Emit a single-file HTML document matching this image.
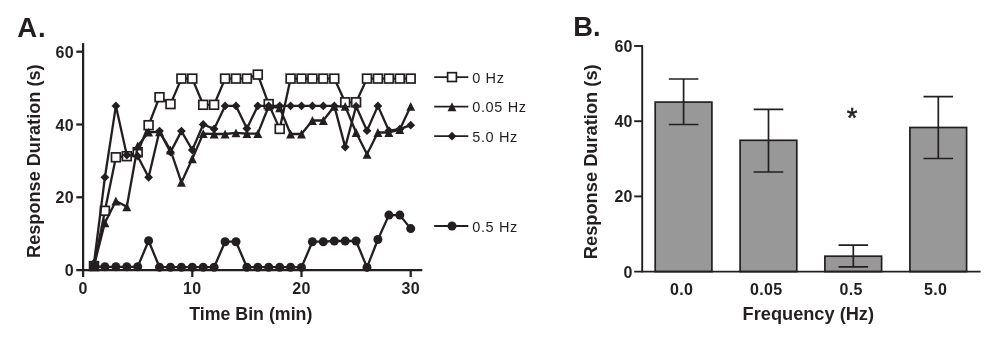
<!DOCTYPE html>
<html><head><meta charset="utf-8"><title>Figure</title>
<style>html,body{margin:0;padding:0;background:#fff}svg{display:block}</style></head>
<body>
<svg width="989" height="348" viewBox="0 0 989 348" font-family="'Liberation Sans', Arial, Helvetica, sans-serif" fill="#231f20">
<rect width="989" height="348" fill="#fff"/>
<text x="17.2" y="36.6" font-size="27.5" font-weight="700" letter-spacing="0.9">A.</text>
<polyline points="94.0,266.1 104.9,210.8 115.9,157.3 126.8,156.2 137.7,152.2 148.6,125.2 159.5,97.2 170.5,104.1 181.4,78.6 192.3,78.6 203.2,104.8 214.1,104.8 225.1,78.6 236.0,78.6 246.9,78.6 257.8,74.6 268.7,104.1 279.7,128.9 290.6,78.6 301.5,78.6 312.4,78.6 323.3,78.6 334.3,78.6 345.2,102.3 356.1,102.3 367.0,78.6 377.9,78.6 388.9,78.6 399.8,78.6 410.7,78.6" fill="none" stroke="#231f20" stroke-width="2.3" stroke-linejoin="round"/>
<rect x="89.6" y="261.7" width="8.8" height="8.8" fill="#fff" stroke="#231f20" stroke-width="1.7"/>
<rect x="100.5" y="206.4" width="8.8" height="8.8" fill="#fff" stroke="#231f20" stroke-width="1.7"/>
<rect x="111.5" y="152.9" width="8.8" height="8.8" fill="#fff" stroke="#231f20" stroke-width="1.7"/>
<rect x="122.4" y="151.8" width="8.8" height="8.8" fill="#fff" stroke="#231f20" stroke-width="1.7"/>
<rect x="133.3" y="147.8" width="8.8" height="8.8" fill="#fff" stroke="#231f20" stroke-width="1.7"/>
<rect x="144.2" y="120.8" width="8.8" height="8.8" fill="#fff" stroke="#231f20" stroke-width="1.7"/>
<rect x="155.1" y="92.8" width="8.8" height="8.8" fill="#fff" stroke="#231f20" stroke-width="1.7"/>
<rect x="166.1" y="99.7" width="8.8" height="8.8" fill="#fff" stroke="#231f20" stroke-width="1.7"/>
<rect x="177.0" y="74.2" width="8.8" height="8.8" fill="#fff" stroke="#231f20" stroke-width="1.7"/>
<rect x="187.9" y="74.2" width="8.8" height="8.8" fill="#fff" stroke="#231f20" stroke-width="1.7"/>
<rect x="198.8" y="100.4" width="8.8" height="8.8" fill="#fff" stroke="#231f20" stroke-width="1.7"/>
<rect x="209.7" y="100.4" width="8.8" height="8.8" fill="#fff" stroke="#231f20" stroke-width="1.7"/>
<rect x="220.7" y="74.2" width="8.8" height="8.8" fill="#fff" stroke="#231f20" stroke-width="1.7"/>
<rect x="231.6" y="74.2" width="8.8" height="8.8" fill="#fff" stroke="#231f20" stroke-width="1.7"/>
<rect x="242.5" y="74.2" width="8.8" height="8.8" fill="#fff" stroke="#231f20" stroke-width="1.7"/>
<rect x="253.4" y="70.2" width="8.8" height="8.8" fill="#fff" stroke="#231f20" stroke-width="1.7"/>
<rect x="264.3" y="99.7" width="8.8" height="8.8" fill="#fff" stroke="#231f20" stroke-width="1.7"/>
<rect x="275.3" y="124.5" width="8.8" height="8.8" fill="#fff" stroke="#231f20" stroke-width="1.7"/>
<rect x="286.2" y="74.2" width="8.8" height="8.8" fill="#fff" stroke="#231f20" stroke-width="1.7"/>
<rect x="297.1" y="74.2" width="8.8" height="8.8" fill="#fff" stroke="#231f20" stroke-width="1.7"/>
<rect x="308.0" y="74.2" width="8.8" height="8.8" fill="#fff" stroke="#231f20" stroke-width="1.7"/>
<rect x="318.9" y="74.2" width="8.8" height="8.8" fill="#fff" stroke="#231f20" stroke-width="1.7"/>
<rect x="329.9" y="74.2" width="8.8" height="8.8" fill="#fff" stroke="#231f20" stroke-width="1.7"/>
<rect x="340.8" y="97.9" width="8.8" height="8.8" fill="#fff" stroke="#231f20" stroke-width="1.7"/>
<rect x="351.7" y="97.9" width="8.8" height="8.8" fill="#fff" stroke="#231f20" stroke-width="1.7"/>
<rect x="362.6" y="74.2" width="8.8" height="8.8" fill="#fff" stroke="#231f20" stroke-width="1.7"/>
<rect x="373.5" y="74.2" width="8.8" height="8.8" fill="#fff" stroke="#231f20" stroke-width="1.7"/>
<rect x="384.5" y="74.2" width="8.8" height="8.8" fill="#fff" stroke="#231f20" stroke-width="1.7"/>
<rect x="395.4" y="74.2" width="8.8" height="8.8" fill="#fff" stroke="#231f20" stroke-width="1.7"/>
<rect x="406.3" y="74.2" width="8.8" height="8.8" fill="#fff" stroke="#231f20" stroke-width="1.7"/>
<polyline points="94.0,266.5 104.9,266.8 115.9,266.8 126.8,266.8 137.7,266.8 148.6,240.8 159.5,267.2 170.5,267.2 181.4,267.2 192.3,267.2 203.2,267.2 214.1,267.2 225.1,241.7 236.0,241.7 246.9,267.2 257.8,267.2 268.7,267.2 279.7,267.2 290.6,267.2 301.5,267.4 312.4,241.7 323.3,241.7 334.3,241.0 345.2,241.0 356.1,241.0 367.0,267.4 377.9,239.5 388.9,215.1 399.8,215.1 410.7,228.6" fill="none" stroke="#231f20" stroke-width="2.3" stroke-linejoin="round"/>
<circle cx="94.0" cy="266.5" r="4.5" fill="#231f20"/>
<circle cx="104.9" cy="266.8" r="4.5" fill="#231f20"/>
<circle cx="115.9" cy="266.8" r="4.5" fill="#231f20"/>
<circle cx="126.8" cy="266.8" r="4.5" fill="#231f20"/>
<circle cx="137.7" cy="266.8" r="4.5" fill="#231f20"/>
<circle cx="148.6" cy="240.8" r="4.5" fill="#231f20"/>
<circle cx="159.5" cy="267.2" r="4.5" fill="#231f20"/>
<circle cx="170.5" cy="267.2" r="4.5" fill="#231f20"/>
<circle cx="181.4" cy="267.2" r="4.5" fill="#231f20"/>
<circle cx="192.3" cy="267.2" r="4.5" fill="#231f20"/>
<circle cx="203.2" cy="267.2" r="4.5" fill="#231f20"/>
<circle cx="214.1" cy="267.2" r="4.5" fill="#231f20"/>
<circle cx="225.1" cy="241.7" r="4.5" fill="#231f20"/>
<circle cx="236.0" cy="241.7" r="4.5" fill="#231f20"/>
<circle cx="246.9" cy="267.2" r="4.5" fill="#231f20"/>
<circle cx="257.8" cy="267.2" r="4.5" fill="#231f20"/>
<circle cx="268.7" cy="267.2" r="4.5" fill="#231f20"/>
<circle cx="279.7" cy="267.2" r="4.5" fill="#231f20"/>
<circle cx="290.6" cy="267.2" r="4.5" fill="#231f20"/>
<circle cx="301.5" cy="267.4" r="4.5" fill="#231f20"/>
<circle cx="312.4" cy="241.7" r="4.5" fill="#231f20"/>
<circle cx="323.3" cy="241.7" r="4.5" fill="#231f20"/>
<circle cx="334.3" cy="241.0" r="4.5" fill="#231f20"/>
<circle cx="345.2" cy="241.0" r="4.5" fill="#231f20"/>
<circle cx="356.1" cy="241.0" r="4.5" fill="#231f20"/>
<circle cx="367.0" cy="267.4" r="4.5" fill="#231f20"/>
<circle cx="377.9" cy="239.5" r="4.5" fill="#231f20"/>
<circle cx="388.9" cy="215.1" r="4.5" fill="#231f20"/>
<circle cx="399.8" cy="215.1" r="4.5" fill="#231f20"/>
<circle cx="410.7" cy="228.6" r="4.5" fill="#231f20"/>
<polyline points="94.0,265.7 104.9,222.8 115.9,200.9 126.8,206.8 137.7,146.0 148.6,132.1 159.5,131.8 170.5,150.0 181.4,182.4 192.3,158.7 203.2,133.6 214.1,134.0 225.1,134.0 236.0,132.9 246.9,133.6 257.8,133.6 268.7,106.3 279.7,107.8 290.6,134.0 301.5,134.0 312.4,120.5 323.3,120.5 334.3,106.3 345.2,106.3 356.1,132.5 367.0,154.3 377.9,132.5 388.9,132.5 399.8,129.6 410.7,106.3" fill="none" stroke="#231f20" stroke-width="2.3" stroke-linejoin="round"/>
<path d="M94.0 261.3L98.5 270.2H89.6Z" fill="#231f20"/>
<path d="M104.9 218.3L109.4 227.2H100.5Z" fill="#231f20"/>
<path d="M115.9 196.5L120.3 205.4H111.4Z" fill="#231f20"/>
<path d="M126.8 202.3L131.2 211.2H122.3Z" fill="#231f20"/>
<path d="M137.7 141.5L142.1 150.4H133.2Z" fill="#231f20"/>
<path d="M148.6 127.7L153.1 136.6H144.2Z" fill="#231f20"/>
<path d="M159.5 127.3L164.0 136.2H155.1Z" fill="#231f20"/>
<path d="M170.5 145.5L174.9 154.4H166.0Z" fill="#231f20"/>
<path d="M181.4 177.9L185.8 186.8H176.9Z" fill="#231f20"/>
<path d="M192.3 154.3L196.8 163.2H187.9Z" fill="#231f20"/>
<path d="M203.2 129.2L207.7 138.1H198.8Z" fill="#231f20"/>
<path d="M214.1 129.5L218.6 138.4H209.7Z" fill="#231f20"/>
<path d="M225.1 129.5L229.5 138.4H220.6Z" fill="#231f20"/>
<path d="M236.0 128.4L240.4 137.3H231.5Z" fill="#231f20"/>
<path d="M246.9 129.2L251.3 138.1H242.5Z" fill="#231f20"/>
<path d="M257.8 129.2L262.3 138.1H253.4Z" fill="#231f20"/>
<path d="M268.7 101.9L273.2 110.8H264.3Z" fill="#231f20"/>
<path d="M279.7 103.3L284.1 112.2H275.2Z" fill="#231f20"/>
<path d="M290.6 129.5L295.0 138.4H286.1Z" fill="#231f20"/>
<path d="M301.5 129.5L305.9 138.4H297.1Z" fill="#231f20"/>
<path d="M312.4 116.0L316.9 124.9H308.0Z" fill="#231f20"/>
<path d="M323.3 116.0L327.8 124.9H318.9Z" fill="#231f20"/>
<path d="M334.3 101.9L338.7 110.8H329.8Z" fill="#231f20"/>
<path d="M345.2 101.9L349.6 110.8H340.7Z" fill="#231f20"/>
<path d="M356.1 128.1L360.6 137.0H351.7Z" fill="#231f20"/>
<path d="M367.0 149.9L371.5 158.8H362.6Z" fill="#231f20"/>
<path d="M377.9 128.1L382.4 137.0H373.5Z" fill="#231f20"/>
<path d="M388.9 128.1L393.3 137.0H384.4Z" fill="#231f20"/>
<path d="M399.8 125.1L404.2 134.0H395.3Z" fill="#231f20"/>
<path d="M410.7 101.9L415.2 110.8H406.3Z" fill="#231f20"/>
<polyline points="94.0,263.2 104.9,177.3 115.9,105.9 126.8,155.1 137.7,156.2 148.6,177.3 159.5,131.1 170.5,152.2 181.4,131.1 192.3,150.0 203.2,124.5 214.1,128.9 225.1,105.9 236.0,105.9 246.9,128.5 257.8,105.9 268.7,105.9 279.7,105.9 290.6,105.9 301.5,105.9 312.4,105.9 323.3,105.9 334.3,105.9 345.2,147.1 356.1,106.3 367.0,130.7 377.9,105.9 388.9,130.7 399.8,129.2 410.7,125.2" fill="none" stroke="#231f20" stroke-width="2.3" stroke-linejoin="round"/>
<path d="M94.0 258.8L98.4 263.2L94.0 267.6L89.6 263.2Z" fill="#231f20"/>
<path d="M104.9 172.9L109.3 177.3L104.9 181.7L100.5 177.3Z" fill="#231f20"/>
<path d="M115.9 101.5L120.3 105.9L115.9 110.3L111.5 105.9Z" fill="#231f20"/>
<path d="M126.8 150.7L131.2 155.1L126.8 159.5L122.4 155.1Z" fill="#231f20"/>
<path d="M137.7 151.8L142.1 156.2L137.7 160.6L133.3 156.2Z" fill="#231f20"/>
<path d="M148.6 172.9L153.0 177.3L148.6 181.7L144.2 177.3Z" fill="#231f20"/>
<path d="M159.5 126.7L163.9 131.1L159.5 135.5L155.1 131.1Z" fill="#231f20"/>
<path d="M170.5 147.8L174.9 152.2L170.5 156.6L166.1 152.2Z" fill="#231f20"/>
<path d="M181.4 126.7L185.8 131.1L181.4 135.5L177.0 131.1Z" fill="#231f20"/>
<path d="M192.3 145.6L196.7 150.0L192.3 154.4L187.9 150.0Z" fill="#231f20"/>
<path d="M203.2 120.1L207.6 124.5L203.2 128.9L198.8 124.5Z" fill="#231f20"/>
<path d="M214.1 124.5L218.5 128.9L214.1 133.3L209.7 128.9Z" fill="#231f20"/>
<path d="M225.1 101.5L229.5 105.9L225.1 110.3L220.7 105.9Z" fill="#231f20"/>
<path d="M236.0 101.5L240.4 105.9L236.0 110.3L231.6 105.9Z" fill="#231f20"/>
<path d="M246.9 124.1L251.3 128.5L246.9 132.9L242.5 128.5Z" fill="#231f20"/>
<path d="M257.8 101.5L262.2 105.9L257.8 110.3L253.4 105.9Z" fill="#231f20"/>
<path d="M268.7 101.5L273.1 105.9L268.7 110.3L264.3 105.9Z" fill="#231f20"/>
<path d="M279.7 101.5L284.1 105.9L279.7 110.3L275.3 105.9Z" fill="#231f20"/>
<path d="M290.6 101.5L295.0 105.9L290.6 110.3L286.2 105.9Z" fill="#231f20"/>
<path d="M301.5 101.5L305.9 105.9L301.5 110.3L297.1 105.9Z" fill="#231f20"/>
<path d="M312.4 101.5L316.8 105.9L312.4 110.3L308.0 105.9Z" fill="#231f20"/>
<path d="M323.3 101.5L327.7 105.9L323.3 110.3L318.9 105.9Z" fill="#231f20"/>
<path d="M334.3 101.5L338.7 105.9L334.3 110.3L329.9 105.9Z" fill="#231f20"/>
<path d="M345.2 142.7L349.6 147.1L345.2 151.5L340.8 147.1Z" fill="#231f20"/>
<path d="M356.1 101.9L360.5 106.3L356.1 110.7L351.7 106.3Z" fill="#231f20"/>
<path d="M367.0 126.3L371.4 130.7L367.0 135.1L362.6 130.7Z" fill="#231f20"/>
<path d="M377.9 101.5L382.3 105.9L377.9 110.3L373.5 105.9Z" fill="#231f20"/>
<path d="M388.9 126.3L393.3 130.7L388.9 135.1L384.5 130.7Z" fill="#231f20"/>
<path d="M399.8 124.8L404.2 129.2L399.8 133.6L395.4 129.2Z" fill="#231f20"/>
<path d="M410.7 120.8L415.1 125.2L410.7 129.6L406.3 125.2Z" fill="#231f20"/>
<g stroke="#231f20" stroke-width="2.25" fill="none">
<path d="M83.1 43.1V271.1"/>
<path d="M76.3 270.0H422.3"/>
<path d="M76.3 197.3H83.1"/>
<path d="M76.3 124.5H83.1"/>
<path d="M76.3 51.7H83.1"/>
<path d="M83.1 270.1V277"/>
<path d="M192.3 270.1V277"/>
<path d="M301.5 270.1V277"/>
<path d="M410.7 270.1V277"/>
</g>
<g font-size="16" font-weight="700" letter-spacing="0.3">
<text x="74" y="276.1" text-anchor="end">0</text>
<text x="74" y="203.3" text-anchor="end">20</text>
<text x="74" y="130.5" text-anchor="end">40</text>
<text x="74" y="57.7" text-anchor="end">60</text>
<text x="83.1" y="293.8" text-anchor="middle">0</text>
<text x="192.3" y="293.8" text-anchor="middle">10</text>
<text x="301.5" y="293.8" text-anchor="middle">20</text>
<text x="410.7" y="293.8" text-anchor="middle">30</text>
</g>
<text x="250.8" y="319.8" font-size="17.8" font-weight="700" text-anchor="middle">Time Bin (min)</text>
<text transform="translate(39.5 161.2) rotate(-90)" font-size="18.15" font-weight="700" text-anchor="middle">Response Duration (s)</text>
<path d="M434.2 77.1H468.3" stroke="#231f20" stroke-width="1.8"/>
<rect x="447.6" y="72.7" width="8.8" height="8.8" fill="#fff" stroke="#231f20" stroke-width="1.7"/>
<text x="472.2" y="82.8" font-size="14.5" letter-spacing="0.65">0 Hz</text>
<path d="M434.2 106.7H468.3" stroke="#231f20" stroke-width="1.8"/>
<path d="M452.0 102.2L456.4 111.2H447.6Z" fill="#231f20"/>
<text x="472.2" y="112.1" font-size="14.5" letter-spacing="0.65">0.05 Hz</text>
<path d="M434.2 136.2H468.3" stroke="#231f20" stroke-width="1.8"/>
<path d="M452.0 131.8L456.4 136.2L452.0 140.6L447.6 136.2Z" fill="#231f20"/>
<text x="472.2" y="141.5" font-size="14.5" letter-spacing="0.65">5.0 Hz</text>
<path d="M434.2 226.0H468.3" stroke="#231f20" stroke-width="1.8"/>
<circle cx="452.0" cy="226.0" r="4.5" fill="#231f20"/>
<text x="472.2" y="231.7" font-size="14.5" letter-spacing="0.65">0.5 Hz</text>
<text x="573.2" y="36.3" font-size="27.3" font-weight="700">B.</text>
<rect x="655.2" y="102.1" width="56.7" height="169.5" fill="#989898" stroke="#231f20" stroke-width="1.7"/>
<path d="M683.6 79V124.5M668.8 79h29.6M668.8 124.5h29.6" stroke="#231f20" stroke-width="1.7" fill="none"/>
<rect x="740.1" y="140.3" width="56.7" height="131.3" fill="#989898" stroke="#231f20" stroke-width="1.7"/>
<path d="M768.5 109.4V172M753.7 109.4h29.6M753.7 172h29.6" stroke="#231f20" stroke-width="1.7" fill="none"/>
<rect x="824.9" y="256.2" width="56.7" height="15.4" fill="#989898" stroke="#231f20" stroke-width="1.7"/>
<path d="M853.3 245.1V266.9M838.5 245.1h29.6M838.5 266.9h29.6" stroke="#231f20" stroke-width="1.7" fill="none"/>
<rect x="909.9" y="127.5" width="56.7" height="144.1" fill="#989898" stroke="#231f20" stroke-width="1.7"/>
<path d="M938.3 96.6V158.5M923.5 96.6h29.6M923.5 158.5h29.6" stroke="#231f20" stroke-width="1.7" fill="none"/>
<g stroke="#231f20" stroke-width="1.9" fill="none">
<path d="M642.2 45.1V272.4"/>
<path d="M634.2 271.6H980.6"/>
<path d="M634.2 196.4H642.2"/>
<path d="M634.2 121.2H642.2"/>
<path d="M634.2 46.0H642.2"/>
</g>
<g font-size="16" font-weight="700" letter-spacing="0.3">
<text x="632.8" y="277.5" text-anchor="end">0</text>
<text x="632.8" y="202.3" text-anchor="end">20</text>
<text x="632.8" y="127.1" text-anchor="end">40</text>
<text x="632.8" y="51.9" text-anchor="end">60</text>
<text x="681.7" y="294.5" text-anchor="middle">0.0</text>
<text x="766.2" y="294.5" text-anchor="middle">0.05</text>
<text x="851.1" y="294.5" text-anchor="middle">0.5</text>
<text x="935.6" y="294.5" text-anchor="middle">5.0</text>
</g>
<text x="808.3" y="319.8" font-size="18.2" font-weight="700" text-anchor="middle">Frequency (Hz)</text>
<text transform="translate(596.6 161.8) rotate(-90)" font-size="18.28" font-weight="700" text-anchor="middle">Response Duration (s)</text>
<text x="852.2" y="127" font-size="27.5" text-anchor="middle" stroke="#231f20" stroke-width="0.55">*</text>
</svg>
</body></html>
